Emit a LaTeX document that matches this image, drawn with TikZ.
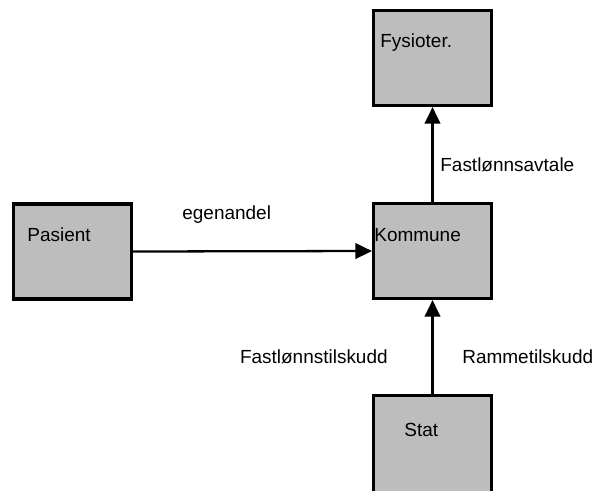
\documentclass[tikz,border=0pt]{standalone}
\usepackage{fontspec}
\setmainfont{Liberation Sans}
\usetikzlibrary{arrows.meta}
\begin{document}
\begin{tikzpicture}[x=0.02cm,y=-0.02cm,part/.style={shape=rectangle,draw=black,line width=1.8pt,fill=black!26,minimum width=\bw,minimum height=\bh,inner sep=0pt},partname/.style={anchor=west,inner sep=0pt,font=\fontsize{10.8}{12}\selectfont},flow/.style={line width=1.3pt,-{Triangle[length=0.33cm,width=0.31cm]}},flowname/.style={inner sep=0pt,font=\fontsize{10.8}{12}\selectfont}]
\def\bw{2.36cm};
\def\bh{1.9cm};

\clip (0,0) rectangle (597,490);

\node[part] (fysioter) at (432.5,58) {};
\node[partname] (fysioterT) at (380,43) {Fysioter.};

\node[part] (kommune) at (432.5,251) {};
\node[partname] (kommuneT) at (374,235) {Kommune};

\node[part] (pasient) at (72.5,251.5) {};
\node[partname] (pasientT) at (27,235) {Pasient};

\node[part,minimum height=2.3cm] (stat) at (432.5,453) {};
\node[partname] (statT) at (404,430) {Stat};

\draw[flow] (pasient.east) -- (kommune.west);
\node[flowname,anchor=west] (egenandelT) at (182,215) {egenandel};

\draw[flow] (kommune.north) -- (fysioter.south);
\node[flowname,anchor=west] (avtaleT) at (440,165) {Fastlønnsavtale};

\draw[flow] (stat.north) -- (kommune.south);
\node[flowname,anchor=east] (fasttilskuddT) at (388,357) {Fastlønnstilskudd};
\node[flowname,anchor=west] (rammeT) at (462,357) {Rammetilskudd};
\end{tikzpicture}
\end{document}
